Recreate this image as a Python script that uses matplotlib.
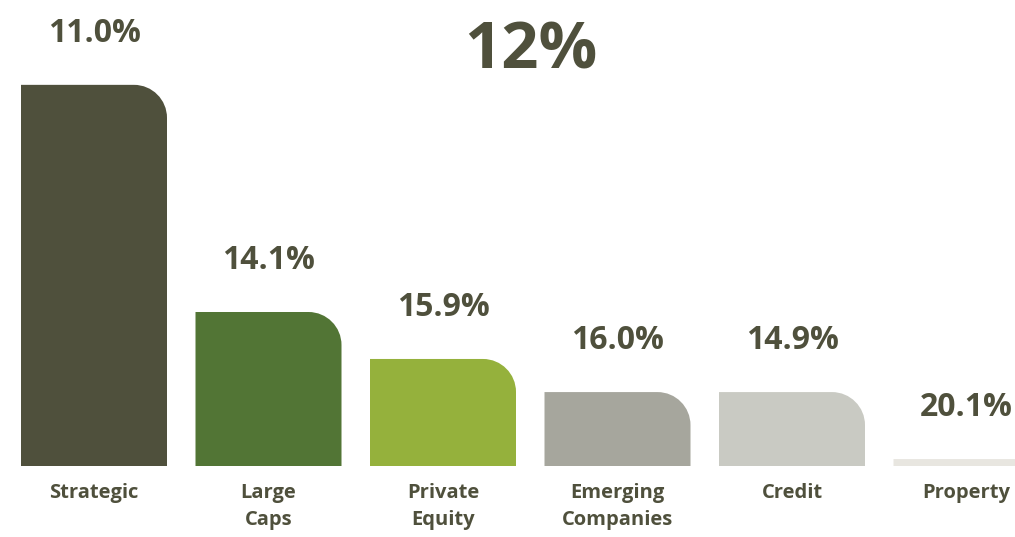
import matplotlib.pyplot as plt
from matplotlib.path import Path
from matplotlib.patches import PathPatch

plt.rcParams['font.family'] = ['Open Sans', 'DejaVu Sans']

categories = ['Strategic', 'Large\nCaps', 'Private\nEquity', 'Emerging\nCompanies', 'Credit', 'Property']
weights = [49.5, 20.0, 13.9, 9.6, 9.6, 0.9]
returns = [11.0, 14.1, 15.9, 16.0, 14.9, 20.1]
headline = '12%'
colors = ['#4F503C', '#527535', '#95B13C', '#A6A69D', '#C9CAC3', '#E8E6E0']
text_color = '#4F503C'

W, H = 1015, 537
fig = plt.figure(figsize=(W / 100, H / 100), dpi=100)
ax = fig.add_axes([0, 0, 1, 1])

# pixel scale: 174.5 px per category, 7.7 px per unit of weight
px_x, px_y = 174.5, 7.7
ax.set_xlim(-94 / px_x, (W - 94) / px_x)
ax.set_ylim(-71 / px_y, (H - 71) / px_y)
ax.axis('off')

bar_width = 146 / px_x
radius_px = 33


def rounded_bar(x, h, color):
    # bar with only the top-right corner rounded
    left, right = x - bar_width / 2, x + bar_width / 2
    r_px = min(radius_px, h * px_y)
    rx, ry = r_px / px_x, r_px / px_y
    k = 0.5523
    verts = [(left, 0), (right, 0), (right, h - ry),
             (right, h - ry + k * ry), (right - rx + k * rx, h), (right - rx, h),
             (left, h), (left, 0)]
    codes = [Path.MOVETO, Path.LINETO, Path.LINETO,
             Path.CURVE4, Path.CURVE4, Path.CURVE4,
             Path.LINETO, Path.CLOSEPOLY]
    ax.add_patch(PathPatch(Path(verts, codes), facecolor=color, edgecolor='none'))


for i, (cat, w, r) in enumerate(zip(categories, weights, returns)):
    rounded_bar(i, w, colors[i])
    ax.annotate(f'{r:.1f}%', (i, w), xytext=(0, 37), textcoords='offset points',
                ha='center', va='center', fontsize=23, fontweight='bold', color=text_color)
    ax.annotate(cat, (i, 0), xytext=(0, -12), textcoords='offset points',
                ha='center', va='top', fontsize=14.5, fontweight='bold', color=text_color,
                linespacing=1.5)

fig.text(531 / W, 1 - 52 / H, headline, ha='center', va='center',
         fontsize=47, fontweight='bold', color=text_color)

fig.savefig('out.png', dpi=100)
